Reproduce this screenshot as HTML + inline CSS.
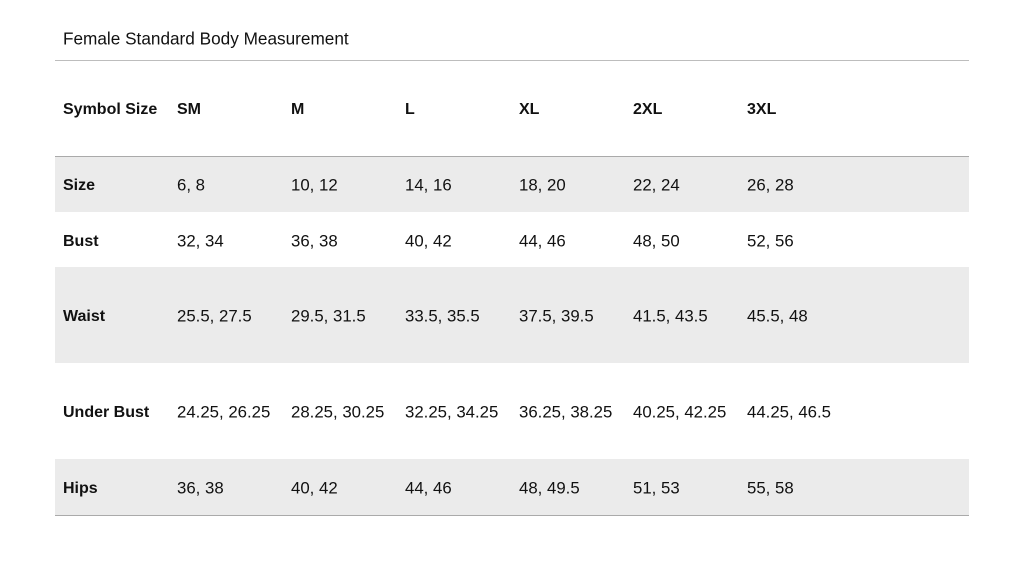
<!DOCTYPE html>
<html><head><meta charset="utf-8"><style>
body{margin:0;width:1024px;height:576px;background:#fff;position:relative;overflow:hidden;font-family:"Liberation Sans",Arial,sans-serif;color:#111}
.t{position:absolute;font-size:16.8px;white-space:nowrap;line-height:1;transform:translateY(-50%)}
.b{font-weight:bold;font-size:16px}
.bg{position:absolute;left:55px;width:914px;background:#ebebeb}
.ln{position:absolute;left:55px;width:914px;height:1px;background:#bdbdbd}
</style></head><body>
<div class="t" style="left:63px;top:39px;font-size:17.2px">Female Standard Body Measurement</div>
<div class="ln" style="top:60px"></div>
<div class="ln" style="top:156px;background:#aaa"></div>
<div class="bg" style="top:157px;height:55px"></div>
<div class="bg" style="top:267px;height:96px"></div>
<div class="bg" style="top:459px;height:56px"></div>
<div class="ln" style="top:515px;background:#aaa"></div>

<div class="t b" style="left:63px;top:110px">Symbol Size</div>
<div class="t b" style="left:177px;top:110px">SM</div>
<div class="t b" style="left:291px;top:110px">M</div>
<div class="t b" style="left:405px;top:110px">L</div>
<div class="t b" style="left:519px;top:110px">XL</div>
<div class="t b" style="left:633px;top:110px">2XL</div>
<div class="t b" style="left:747px;top:110px">3XL</div>

<div class="t b" style="left:63px;top:186px">Size</div>
<div class="t" style="left:177px;top:186px">6, 8</div>
<div class="t" style="left:291px;top:186px">10, 12</div>
<div class="t" style="left:405px;top:186px">14, 16</div>
<div class="t" style="left:519px;top:186px">18, 20</div>
<div class="t" style="left:633px;top:186px">22, 24</div>
<div class="t" style="left:747px;top:186px">26, 28</div>

<div class="t b" style="left:63px;top:242px">Bust</div>
<div class="t" style="left:177px;top:242px">32, 34</div>
<div class="t" style="left:291px;top:242px">36, 38</div>
<div class="t" style="left:405px;top:242px">40, 42</div>
<div class="t" style="left:519px;top:242px">44, 46</div>
<div class="t" style="left:633px;top:242px">48, 50</div>
<div class="t" style="left:747px;top:242px">52, 56</div>

<div class="t b" style="left:63px;top:317px">Waist</div>
<div class="t" style="left:177px;top:317px">25.5, 27.5</div>
<div class="t" style="left:291px;top:317px">29.5, 31.5</div>
<div class="t" style="left:405px;top:317px">33.5, 35.5</div>
<div class="t" style="left:519px;top:317px">37.5, 39.5</div>
<div class="t" style="left:633px;top:317px">41.5, 43.5</div>
<div class="t" style="left:747px;top:317px">45.5, 48</div>

<div class="t b" style="left:63px;top:413px">Under Bust</div>
<div class="t" style="left:177px;top:413px">24.25, 26.25</div>
<div class="t" style="left:291px;top:413px">28.25, 30.25</div>
<div class="t" style="left:405px;top:413px">32.25, 34.25</div>
<div class="t" style="left:519px;top:413px">36.25, 38.25</div>
<div class="t" style="left:633px;top:413px">40.25, 42.25</div>
<div class="t" style="left:747px;top:413px">44.25, 46.5</div>

<div class="t b" style="left:63px;top:489px">Hips</div>
<div class="t" style="left:177px;top:489px">36, 38</div>
<div class="t" style="left:291px;top:489px">40, 42</div>
<div class="t" style="left:405px;top:489px">44, 46</div>
<div class="t" style="left:519px;top:489px">48, 49.5</div>
<div class="t" style="left:633px;top:489px">51, 53</div>
<div class="t" style="left:747px;top:489px">55, 58</div>
</body></html>
